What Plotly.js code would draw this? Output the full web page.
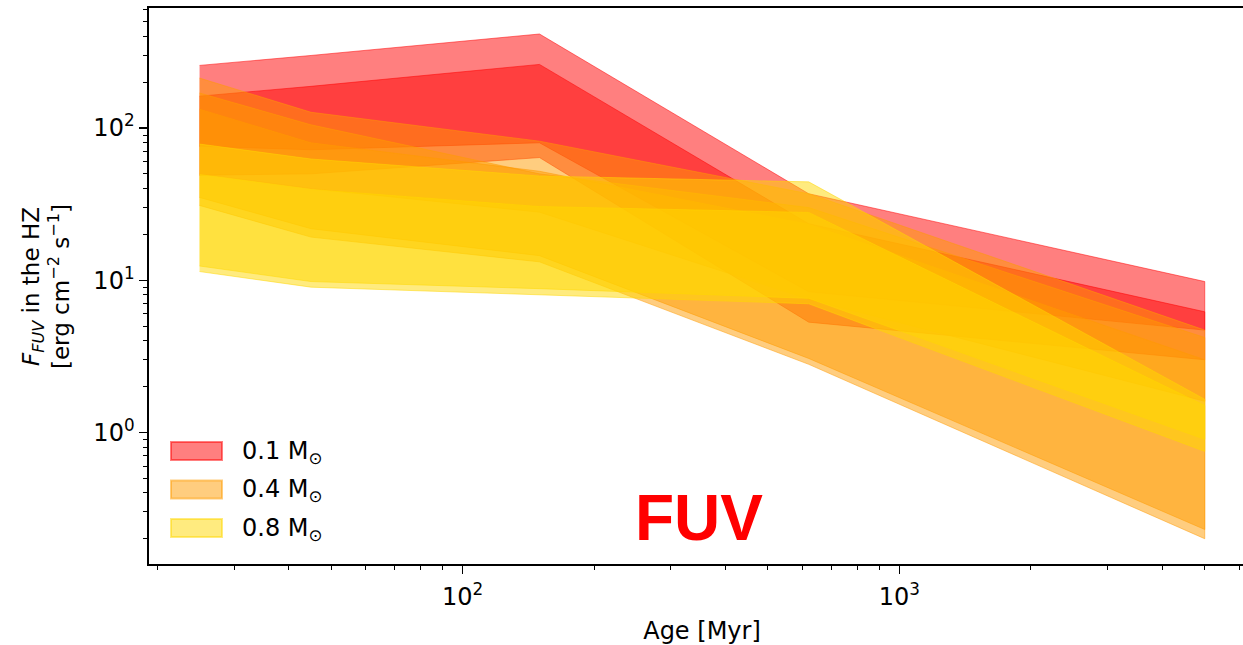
<!DOCTYPE html>
<html>
<head>
<meta charset="utf-8">
<script src="https://cdn.plot.ly/plotly-3.0.1.min.js"></script>
<style>
  html, body { margin: 0; padding: 0; overflow: hidden; background: #ffffff; }
  #chart { width: 1260px; height: 645px; }
</style>
</head>
<body>
<div id="chart"></div>
<script>
// Stellar ages sampled by the models (Myr)
const ages = [25, 45, 150, 620, 5000];

// FUV flux in the habitable zone (erg cm^-2 s^-1): upper / lower envelope of each band
// 0.1 Msun
const m01_inner_hi = [258, 300, 415, 37, 9.8];
const m01_inner_lo = [76, 72, 80, 8.4, 4.7];
const m01_outer_hi = [162, 188, 262, 23.5, 6.2];
const m01_outer_lo = [49, 50, 64, 5.3, 3.0];
// 0.4 Msun
const m04_inner_hi = [213, 127, 82, 37, 4.7];
const m04_inner_lo = [35, 21.8, 14.5, 3.06, 0.23];
const m04_mid_hi = [170, 105, 50, 30, 4.2];
const m04_mid_lo = [50, 40, 28, 7.5, 1.6];
const m04_outer_hi = [133, 80, 52, 23.3, 3.0];
const m04_outer_lo = [31, 19.2, 13.2, 2.8, 0.2];
// 0.8 Msun
const m08_inner_hi = [78.5, 62.6, 48.4, 44.3, 1.65];
const m08_inner_lo = [12.4, 9.8, 8.8, 7.6, 0.9];
const m08_outer_hi = [49.5, 39.5, 30.5, 27.9, 1.5];
const m08_outer_lo = [11.4, 9.0, 8.0, 7.0, 0.75];

const massLabels = ['0.1', '0.4', '0.8'];
const massColors = ['rgba(255,0,0,0.5)', 'rgba(255,155,0,0.5)', 'rgba(255,215,0,0.5)'];

const bands = [
  [0, m01_inner_hi, m01_inner_lo],
  [0, m01_outer_hi, m01_outer_lo],
  [1, m04_inner_hi, m04_inner_lo],
  [1, m04_mid_hi, m04_mid_lo],
  [1, m04_outer_hi, m04_outer_lo],
  [2, m08_inner_hi, m08_inner_lo],
  [2, m08_outer_hi, m08_outer_lo]
];

// Each band is a closed polygon: upper envelope forward, lower envelope back
const traces = bands.map(([m, hi, lo]) => ({
  type: 'scatter',
  mode: 'lines',
  x: ages.concat(ages.slice().reverse()),
  y: hi.concat(lo.slice().reverse()),
  fill: 'toself',
  fillcolor: massColors[m],
  line: { color: massColors[m], width: 1 },
  hoverinfo: 'skip',
  showlegend: false
}));

// Plot-area geometry in pixels
const W = 1260, H = 645;
const mL = 149, mR = 5, mT = 8, mB = 81;
const pw = W - mL - mR, ph = H - mT - mB;
const px = x => (x - mL) / pw;
const py = y => (H - mB - y) / ph;

const font = 'DejaVu Sans, sans-serif';

// Legend drawn as swatches + labels
const shapes = [];
const annotations = [];
const legendRows = [451, 489.5, 528];
massLabels.forEach((lab, i) => {
  shapes.push({
    type: 'rect', xref: 'paper', yref: 'paper',
    x0: px(171), x1: px(222), y0: py(legendRows[i] + 9), y1: py(legendRows[i] - 9),
    fillcolor: massColors[i], line: { color: massColors[i], width: 2 }
  });
  annotations.push({
    xref: 'paper', yref: 'paper', x: px(240), y: py(legendRows[i] + 1),
    xanchor: 'left', yanchor: 'middle', showarrow: false,
    text: lab + ' M<sub>⊙</sub>', font: { family: font, size: 24, color: '#000' }
  });
});

// Axis title for the flux, two lines
annotations.push({
  xref: 'paper', yref: 'paper', x: px(46), y: 0.5,
  xanchor: 'center', yanchor: 'middle', showarrow: false, textangle: -90,
  text: '<i>F</i><sub><i>FUV</i></sub> in the HZ<br>[erg cm<sup>−2</sup> s<sup>−1</sup>]',
  font: { family: font, size: 23, color: '#000' }
});

// Band label
annotations.push({
  xref: 'paper', yref: 'paper', x: px(699), y: py(518),
  xanchor: 'center', yanchor: 'middle', showarrow: false,
  text: '<b>FUV</b>',
  font: { family: 'Liberation Sans, Arial, sans-serif', size: 64, color: '#ff0000' }
});

const sup = n => '10<sup>' + n + '</sup>';
const minorX = [20,30,40,50,60,70,80,90,200,300,400,500,600,700,800,900,2000,3000,4000,5000,6000];
const minorY = [0.2,0.3,0.4,0.5,0.6,0.7,0.8,0.9,2,3,4,5,6,7,8,9,20,30,40,50,60,70,80,90,200,300,400,500,600];

const layout = {
  width: W, height: H,
  margin: { l: mL, r: mR, t: mT, b: mB },
  paper_bgcolor: '#ffffff', plot_bgcolor: '#ffffff',
  showlegend: false,
  font: { family: font, size: 24, color: '#000' },
  xaxis: {
    type: 'log', range: [1.2822, 3.814],
    showgrid: false, zeroline: false,
    showline: true, linecolor: '#000', linewidth: 1.6, mirror: true,
    ticks: 'outside', ticklen: 8, tickwidth: 1.4, tickcolor: '#000',
    tickmode: 'array', tickvals: [100, 1000], ticktext: [sup(2), sup(3)],
    tickfont: { family: font, size: 24, color: '#000' },
    ticklabelstandoff: 3,
    minor: { tickmode: 'array', tickvals: minorX, ticks: 'outside', ticklen: 4.5, tickwidth: 1, tickcolor: '#000', showgrid: false },
    title: { text: 'Age [Myr]', font: { family: font, size: 24, color: '#000' }, standoff: 12 }
  },
  yaxis: {
    type: 'log', range: [-0.865, 2.789],
    showgrid: false, zeroline: false,
    showline: true, linecolor: '#000', linewidth: 1.6, mirror: true,
    ticks: 'outside', ticklen: 8, tickwidth: 1.4, tickcolor: '#000',
    tickmode: 'array', tickvals: [1, 10, 100], ticktext: [sup(0), sup(1), sup(2)],
    tickfont: { family: font, size: 24, color: '#000' },
    minor: { tickmode: 'array', tickvals: minorY, ticks: 'outside', ticklen: 4.5, tickwidth: 1, tickcolor: '#000', showgrid: false }
  },
  shapes: shapes,
  annotations: annotations
};

Plotly.newPlot('chart', traces, layout, { displayModeBar: false, staticPlot: true });
</script>
</body>
</html>
